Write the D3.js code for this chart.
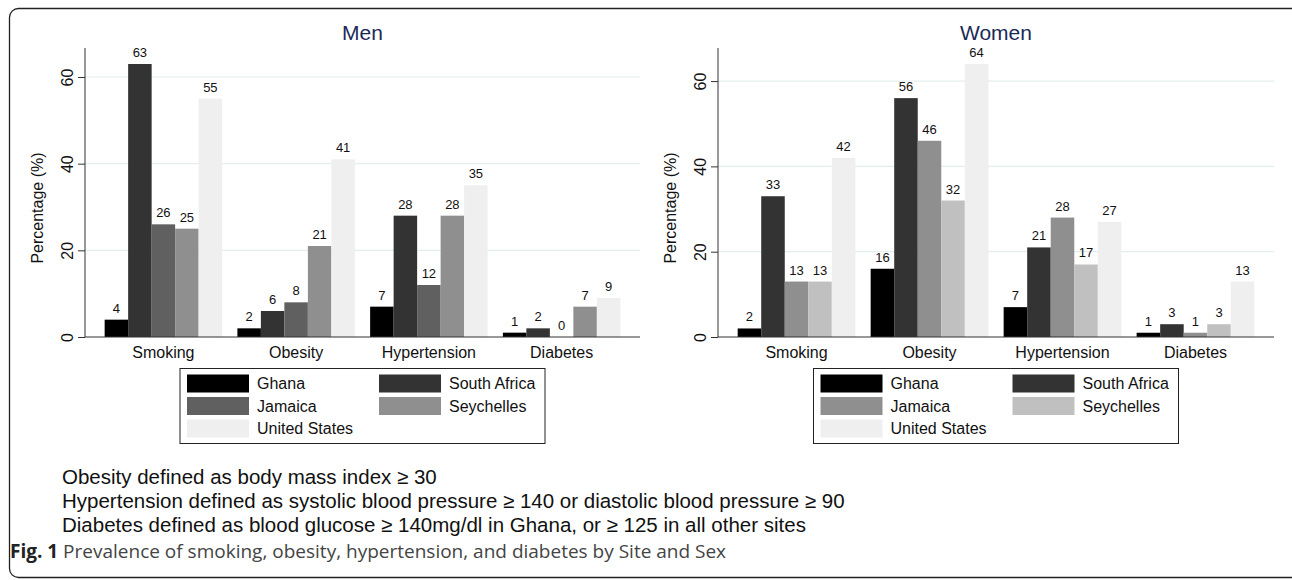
<!DOCTYPE html>
<html>
<head>
<meta charset="utf-8">
<script src="https://cdn.jsdelivr.net/npm/d3@7"></script>
<style>
  body { margin: 0; background: #fff; }
  svg { display: block; }
  svg text { font-family: "Liberation Sans", Arial, sans-serif; }
</style>
</head>
<body>
<svg id="chart" width="1292" height="580"></svg>
<script>
// data
const categories = ["Smoking", "Obesity", "Hypertension", "Diabetes"];
const sites = ["Ghana", "South Africa", "Jamaica", "Seychelles", "United States"];

const menGhana = [4, 2, 7, 1];
const menSouthAfrica = [63, 6, 28, 2];
const menJamaica = [26, 8, 12, 0];
const menSeychelles = [25, 21, 28, 7];
const menUS = [55, 41, 35, 9];

const womenGhana = [2, 16, 7, 1];
const womenSouthAfrica = [33, 56, 21, 3];
const womenJamaica = [13, 46, 28, 1];
const womenSeychelles = [13, 32, 17, 3];
const womenUS = [42, 64, 27, 13];

const yTicks = [0, 20, 40, 60];

const footnotes = [
  "Obesity defined as body mass index \u2265 30",
  "Hypertension defined as systolic blood pressure \u2265 140 or diastolic blood pressure \u2265 90",
  "Diabetes defined as blood glucose \u2265 140mg/dl in Ghana, or \u2265 125 in all other sites"
];

const menColors = ["#000000", "#333333", "#606060", "#8f8f8f", "#efefef"];
const womenColors = ["#000000", "#333333", "#8f8f8f", "#c0c0c0", "#efefef"];

const svg = d3.select("#chart");

// outer rounded frame (runs off the right side like the original)
svg.append("rect")
  .attr("x", 9.5).attr("y", 8.5)
  .attr("width", 1300).attr("height", 569)
  .attr("rx", 9)
  .attr("fill", "none")
  .attr("stroke", "#222")
  .attr("stroke-width", 1.3);

function drawPanel(opts) {
  const series = opts.series;
  const maxVal = d3.max(series, s => d3.max(s));

  const x = d3.scaleBand()
    .domain(categories)
    .range([opts.left, opts.right])
    .paddingInner(0.115)
    .paddingOuter(0.148);

  const xSite = d3.scaleBand()
    .domain(sites)
    .range([0, x.bandwidth()]);

  const y = d3.scaleLinear()
    .domain([0, maxVal])
    .range([337, 64]);

  const g = svg.append("g");

  // gridlines
  g.selectAll(".grid")
    .data(yTicks.filter(t => t > 0))
    .enter()
    .append("line")
    .attr("x1", opts.left).attr("x2", opts.right)
    .attr("y1", d => y(d)).attr("y2", d => y(d))
    .attr("stroke", "#e4eeee")
    .attr("stroke-width", 1.2);

  // y axis
  const yAxis = g.append("g")
    .attr("transform", "translate(" + opts.left + ",0)")
    .call(d3.axisLeft(y).tickValues(yTicks).tickSize(7).tickFormat(d3.format("d")));
  yAxis.attr("font-family", null).attr("font-size", null);
  yAxis.select(".domain").attr("d", "M0,48V" + y(0)).attr("stroke", "#333");
  yAxis.selectAll(".tick line").attr("stroke", "#333");
  yAxis.selectAll(".tick text")
    .attr("x", null).attr("dy", null)
    .attr("transform", "translate(-18,0) rotate(-90)")
    .attr("text-anchor", "middle")
    .attr("dominant-baseline", "central")
    .style("font-size", "16px")
    .style("fill", "#111");

  // y title
  g.append("text")
    .attr("transform", "translate(" + (opts.left - 48) + "," + 208 + ") rotate(-90)")
    .attr("text-anchor", "middle")
    .attr("dominant-baseline", "central")
    .style("font-size", "16px")
    .style("fill", "#111")
    .text("Percentage (%)");

  // bars
  const rows = [];
  categories.forEach(function(cat, ci) {
    sites.forEach(function(site, si) {
      rows.push({ cat: cat, site: site, si: si, value: series[si][ci] });
    });
  });

  g.selectAll(".bar")
    .data(rows)
    .enter()
    .append("rect")
    .attr("x", d => x(d.cat) + xSite(d.site))
    .attr("width", xSite.bandwidth())
    .attr("y", d => y(d.value))
    .attr("height", d => y(0) - y(d.value))
    .attr("fill", d => opts.colors[d.si]);

  // value labels
  g.selectAll(".val")
    .data(rows)
    .enter()
    .append("text")
    .attr("x", d => x(d.cat) + xSite(d.site) + xSite.bandwidth() / 2)
    .attr("y", d => y(d.value) - 7)
    .attr("text-anchor", "middle")
    .style("font-size", "13px")
    .style("fill", "#111")
    .text(d => d.value);

  // x baseline
  g.append("line")
    .attr("x1", opts.left).attr("x2", opts.right)
    .attr("y1", y(0)).attr("y2", y(0))
    .attr("stroke", "#333")
    .attr("stroke-width", 1.2);

  // category labels
  g.selectAll(".cat")
    .data(categories)
    .enter()
    .append("text")
    .attr("x", d => x(d) + x.bandwidth() / 2)
    .attr("y", 357.5)
    .attr("text-anchor", "middle")
    .style("font-size", "16px")
    .style("fill", "#111")
    .text(d => d);

  // title
  g.append("text")
    .attr("x", (opts.left + opts.right) / 2)
    .attr("y", 40)
    .attr("text-anchor", "middle")
    .style("font-size", "21px")
    .style("fill", "#1a2a58")
    .text(opts.title);

  // legend
  const lgW = 365, lgH = 75;
  const lgX = (opts.left + opts.right) / 2 - lgW / 2;
  const lgY = 368.5;
  const lg = g.append("g").attr("transform", "translate(" + lgX + "," + lgY + ")");
  lg.append("rect")
    .attr("width", lgW).attr("height", lgH)
    .attr("fill", "#fff")
    .attr("stroke", "#222")
    .attr("stroke-width", 1);

  const items = lg.selectAll(".item")
    .data(sites)
    .enter()
    .append("g")
    .attr("transform", (d, i) => "translate(" + (i % 2 === 0 ? 7 : 199) + "," + (6 + Math.floor(i / 2) * 22.5) + ")");
  items.append("rect")
    .attr("width", 62).attr("height", 18)
    .attr("fill", (d, i) => opts.colors[i]);
  items.append("text")
    .attr("x", 70)
    .attr("y", 9)
    .attr("dominant-baseline", "central")
    .style("font-size", "16px")
    .style("fill", "#111")
    .text(d => d);
}

drawPanel({
  title: "Men",
  left: 85, right: 640,
  series: [menGhana, menSouthAfrica, menJamaica, menSeychelles, menUS],
  colors: menColors
});

drawPanel({
  title: "Women",
  left: 718, right: 1274,
  series: [womenGhana, womenSouthAfrica, womenJamaica, womenSeychelles, womenUS],
  colors: womenColors
});

// footnotes
svg.selectAll(".note")
  .data(footnotes)
  .enter()
  .append("text")
  .attr("x", 62)
  .attr("y", (d, i) => 484 + i * 24)
  .style("font-size", "20.5px")
  .style("fill", "#111")
  .text(d => d);

// caption
const cap = svg.append("text")
  .attr("x", 10)
  .attr("y", 558)
  .style("font-family", "'Open Sans', sans-serif")
  .style("font-size", "19px")
  .style("fill", "#444");
cap.append("tspan").style("font-weight", "bold").style("fill", "#222").text("Fig. 1");
cap.append("tspan").text(" Prevalence of smoking, obesity, hypertension, and diabetes by Site and Sex");
</script>
</body>
</html>
